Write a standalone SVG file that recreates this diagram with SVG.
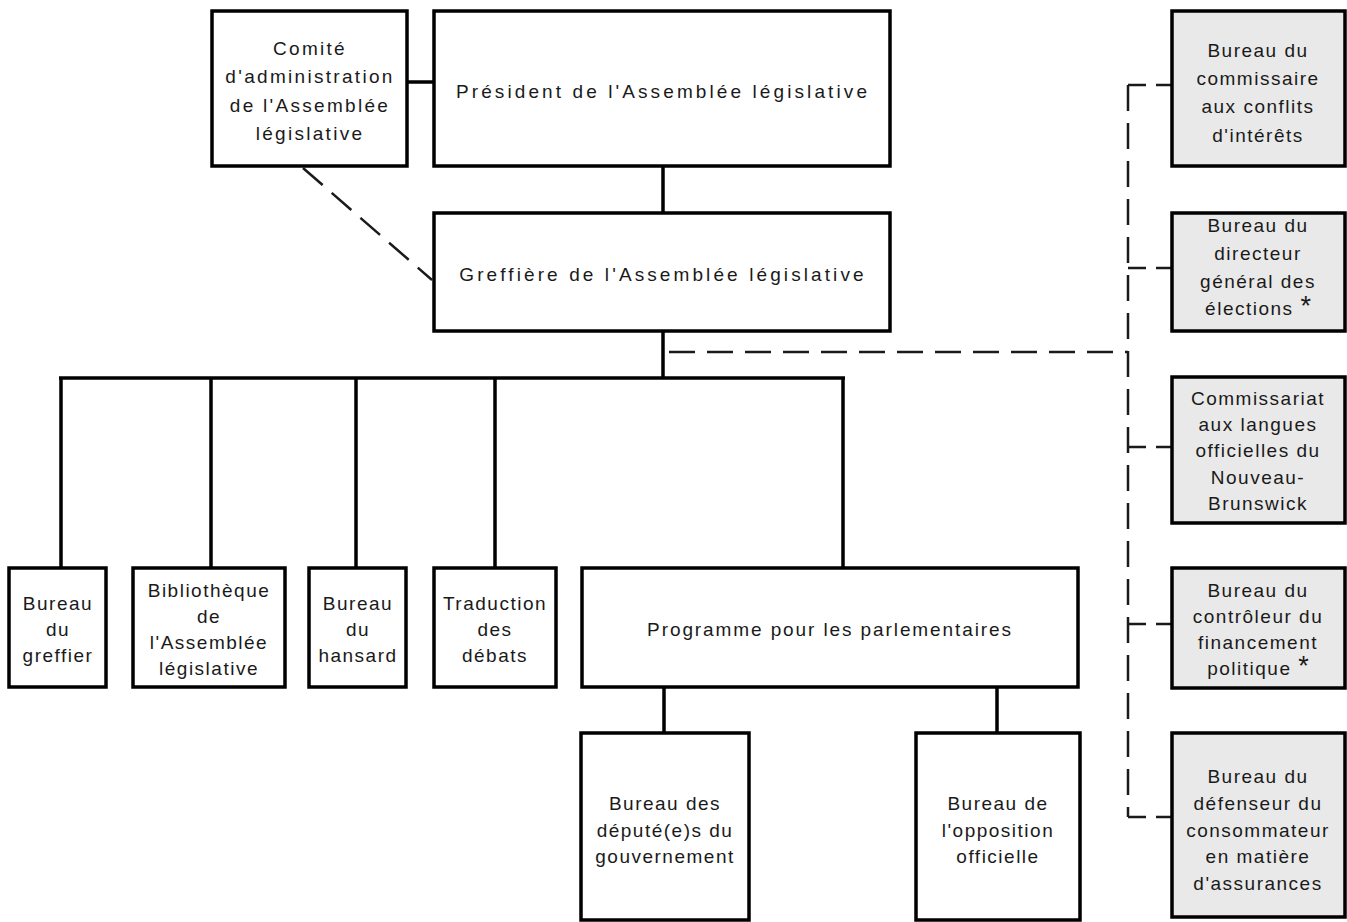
<svg xmlns="http://www.w3.org/2000/svg" width="1347" height="922" viewBox="0 0 1347 922">
<style>
  .box { fill: #ffffff; stroke: #000000; stroke-width: 3.5; }
  .gbox { fill: #e9e9e9; stroke: #000000; stroke-width: 3.5; }
  .solid { stroke: #000000; stroke-width: 3.5; fill: none; }
  .dash { stroke: #1a1a1a; stroke-width: 2.5; fill: none; stroke-dasharray: 26 12; }
  .stub { stroke-dasharray: 18 10; }
  text { font-family: "Liberation Sans", Arial, sans-serif; font-size: 19px; fill: #1a1a1a; text-anchor: middle; letter-spacing: 1.5px; }
  .wide { letter-spacing: 3.1px; }
  .mid { letter-spacing: 2.3px; }
  .prog { letter-spacing: 1.9px; }
  .ast { font-size: 27px; letter-spacing: 0; }
</style>
<rect width="1347" height="922" fill="#ffffff"/>
<g id="connectors">
  <line class="solid" x1="407" y1="82" x2="434" y2="82"/>
  <line class="solid" x1="663" y1="166" x2="663" y2="213"/>
  <line class="solid" x1="663" y1="331" x2="663" y2="378"/>
  <line class="solid" x1="59" y1="378" x2="845" y2="378"/>
  <line class="solid" x1="61" y1="378" x2="61" y2="568"/>
  <line class="solid" x1="211" y1="378" x2="211" y2="568"/>
  <line class="solid" x1="356" y1="378" x2="356" y2="568"/>
  <line class="solid" x1="495" y1="378" x2="495" y2="568"/>
  <line class="solid" x1="843" y1="378" x2="843" y2="568"/>
  <line class="solid" x1="664" y1="687" x2="664" y2="733"/>
  <line class="solid" x1="997" y1="687" x2="997" y2="733"/>
  <line class="dash" x1="303" y1="168" x2="432" y2="280"/>
  <line class="dash" x1="669" y1="352" x2="1128" y2="352"/>
  <line class="dash" x1="1128" y1="85" x2="1128" y2="817"/>
  <line class="dash stub" x1="1128" y1="85" x2="1172" y2="85"/>
  <line class="dash stub" x1="1128" y1="268" x2="1172" y2="268"/>
  <line class="dash stub" x1="1128" y1="447" x2="1172" y2="447"/>
  <line class="dash stub" x1="1128" y1="624" x2="1172" y2="624"/>
  <line class="dash stub" x1="1128" y1="817" x2="1172" y2="817"/>
</g>
<g id="comite">
  <rect class="box" x="212" y="11" width="195" height="155"/>
  <text class="mid" x="310" y="55">Comité</text>
  <text class="mid" x="310" y="83">d'administration</text>
  <text class="mid" x="310" y="112">de l'Assemblée</text>
  <text class="mid" x="310" y="140">législative</text>
</g>
<g id="president">
  <rect class="box" x="434" y="11" width="456" height="155"/>
  <text class="wide" x="663" y="98">Président de l'Assemblée législative</text>
</g>
<g id="greffiere">
  <rect class="box" x="434" y="213" width="456" height="118"/>
  <text class="wide" x="663" y="281">Greffière de l'Assemblée législative</text>
</g>
<g id="bureau-greffier">
  <rect class="box" x="9" y="568" width="97" height="119"/>
  <text x="58" y="610">Bureau</text>
  <text x="58" y="636">du</text>
  <text x="58" y="662">greffier</text>
</g>
<g id="bibliotheque">
  <rect class="box" x="133" y="568" width="152" height="119"/>
  <text x="209" y="597">Bibliothèque</text>
  <text x="209" y="623">de</text>
  <text x="209" y="649">l'Assemblée</text>
  <text x="209" y="675">législative</text>
</g>
<g id="hansard">
  <rect class="box" x="309" y="568" width="97" height="119"/>
  <text x="358" y="610">Bureau</text>
  <text x="358" y="636">du</text>
  <text x="358" y="662">hansard</text>
</g>
<g id="traduction">
  <rect class="box" x="434" y="568" width="122" height="119"/>
  <text x="495" y="610">Traduction</text>
  <text x="495" y="636">des</text>
  <text x="495" y="662">débats</text>
</g>
<g id="programme">
  <rect class="box" x="582" y="568" width="496" height="119"/>
  <text class="prog" x="830" y="636">Programme pour les parlementaires</text>
</g>
<g id="deputes">
  <rect class="box" x="581" y="733" width="168" height="187"/>
  <text x="665" y="810">Bureau des</text>
  <text x="665" y="837">député(e)s du</text>
  <text x="665" y="863">gouvernement</text>
</g>
<g id="opposition">
  <rect class="box" x="916" y="733" width="164" height="187"/>
  <text x="998" y="810">Bureau de</text>
  <text x="998" y="837">l'opposition</text>
  <text x="998" y="863">officielle</text>
</g>
<g id="conflits">
  <rect class="gbox" x="1172" y="11" width="173" height="155"/>
  <text x="1258" y="57">Bureau du</text>
  <text x="1258" y="85">commissaire</text>
  <text x="1258" y="113">aux conflits</text>
  <text x="1258" y="142">d'intérêts</text>
</g>
<g id="elections">
  <rect class="gbox" x="1172" y="213" width="173" height="118"/>
  <text x="1258" y="232">Bureau du</text>
  <text x="1258" y="260">directeur</text>
  <text x="1258" y="288">général des</text>
  <text x="1258" y="315">élections <tspan class="ast">*</tspan></text>
</g>
<g id="langues">
  <rect class="gbox" x="1172" y="377" width="173" height="146"/>
  <text x="1258" y="405">Commissariat</text>
  <text x="1258" y="431">aux langues</text>
  <text x="1258" y="457">officielles du</text>
  <text x="1258" y="484">Nouveau-</text>
  <text x="1258" y="510">Brunswick</text>
</g>
<g id="financement">
  <rect class="gbox" x="1172" y="568" width="173" height="120"/>
  <text x="1258" y="597">Bureau du</text>
  <text x="1258" y="623">contrôleur du</text>
  <text x="1258" y="649">financement</text>
  <text x="1258" y="675">politique <tspan class="ast">*</tspan></text>
</g>
<g id="assurances">
  <rect class="gbox" x="1172" y="733" width="173" height="184"/>
  <text x="1258" y="783">Bureau du</text>
  <text x="1258" y="810">défenseur du</text>
  <text x="1258" y="837">consommateur</text>
  <text x="1258" y="863">en matière</text>
  <text x="1258" y="890">d'assurances</text>
</g>
</svg>
